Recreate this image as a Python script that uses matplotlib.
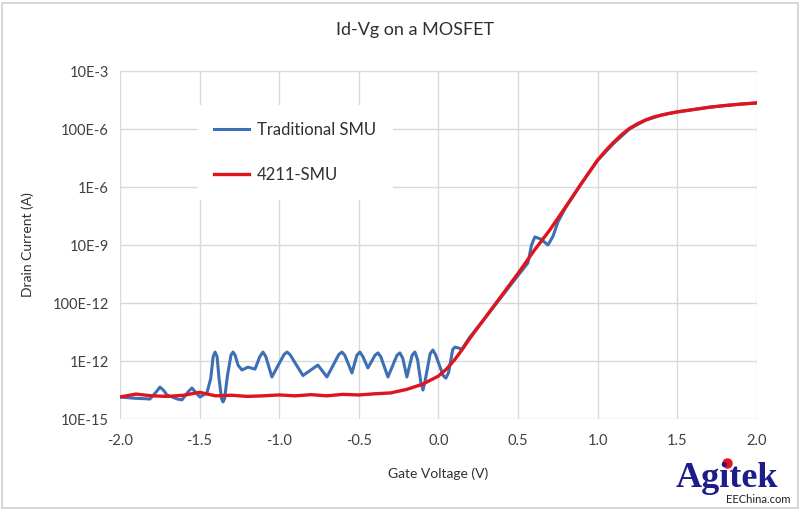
import matplotlib
matplotlib.use("Agg")
import matplotlib.pyplot as plt
import numpy as np
from matplotlib.patches import Rectangle

# gate voltage (V) and log10 of drain current (A)
v_trad = [-2.0, -1.918, -1.812, -1.770, -1.749, -1.728, -1.705, -1.640, -1.611,
          -1.570, -1.548, -1.525, -1.498, -1.454, -1.430, -1.415, -1.403, -1.390,
          -1.378, -1.362, -1.353, -1.343, -1.325, -1.303, -1.290, -1.277, -1.258,
          -1.234, -1.196, -1.152, -1.122, -1.102, -1.084, -1.046, -0.970, -0.951,
          -0.932, -0.851, -0.757, -0.700, -0.626, -0.606, -0.588, -0.543, -0.512,
          -0.493, -0.474, -0.443, -0.398, -0.380, -0.362, -0.317, -0.260, -0.242,
          -0.224, -0.198, -0.165, -0.148, -0.131, -0.110, -0.097, -0.084, -0.052,
          -0.035, -0.018, 0.030, 0.047, 0.064, 0.090, 0.104, 0.125, 0.148, 0.198,
          0.3, 0.4, 0.5, 0.562, 0.585, 0.606, 0.645, 0.688, 0.720, 0.750, 0.8,
          0.9, 1.0, 1.1, 1.2, 1.3, 1.4, 1.5, 1.6, 1.7, 1.8, 1.9, 2.0]
logi_trad = [-13.24, -13.28, -13.31, -13.05, -12.90, -13.00, -13.17, -13.31, -13.34,
             -13.05, -12.93, -13.08, -13.24, -13.10, -12.60, -11.85, -11.69, -11.85,
             -12.60, -13.30, -13.41, -13.30, -12.50, -11.80, -11.69, -11.80, -12.15,
             -12.31, -12.21, -12.28, -11.85, -11.69, -11.85, -12.55, -11.78, -11.69,
             -11.78, -12.50, -12.14, -12.55, -11.78, -11.69, -11.80, -12.41, -11.80,
             -11.69, -11.85, -12.24, -11.80, -11.72, -11.85, -12.55, -11.80, -11.72,
             -11.90, -12.55, -11.80, -11.69, -11.95, -12.75, -13.00, -12.70, -11.75,
             -11.62, -11.78, -12.50, -12.59, -12.40, -11.60, -11.52, -11.55, -11.59,
             -11.17, -10.47, -9.76, -9.05, -8.62, -8.00, -7.72, -7.80, -8.00, -7.70,
             -7.21, -6.70, -5.87, -5.08, -4.50, -4.00, -3.70, -3.52, -3.41, -3.33,
             -3.25, -3.19, -3.14, -3.10]

v_4211 = [-2.0, -1.9, -1.8, -1.7, -1.6, -1.5, -1.4, -1.3, -1.2, -1.1, -1.0, -0.9,
          -0.8, -0.7, -0.6, -0.5, -0.4, -0.3, -0.2, -0.1, 0.0, 0.05, 0.1, 0.15,
          0.2, 0.3, 0.4, 0.5, 0.6, 0.7, 0.8, 0.9, 1.0, 1.05, 1.1, 1.15, 1.2, 1.25,
          1.3, 1.35, 1.4, 1.45, 1.5, 1.6, 1.7, 1.8, 1.9, 2.0]
logi_4211 = [-13.24, -13.14, -13.20, -13.22, -13.18, -13.08, -13.20, -13.18, -13.22,
             -13.20, -13.17, -13.20, -13.16, -13.20, -13.15, -13.17, -13.13, -13.10,
             -12.98, -12.80, -12.52, -12.28, -11.97, -11.60, -11.20, -10.46, -9.72,
             -8.98, -8.20, -7.48, -6.68, -5.86, -5.07, -4.75, -4.46, -4.20, -3.98,
             -3.82, -3.69, -3.59, -3.52, -3.46, -3.41, -3.33, -3.25, -3.19, -3.14,
             -3.10]

x_ticks = [-2.0, -1.5, -1.0, -0.5, 0.0, 0.5, 1.0, 1.5, 2.0]
x_labels = ["-2.0", "-1.5", "-1.0", "-0.5", "0.0", "0.5", "1.0", "1.5", "2.0"]
y_ticks = [1e-14, 1e-12, 1e-10, 1e-8, 1e-6, 1e-4, 1e-2]
y_labels = ["10E-15", "1E-12", "100E-12", "10E-9", "1E-6", "100E-6", "10E-3"]

plt.rcParams['font.family'] = ['Lato', 'DejaVu Sans']

fig = plt.figure(figsize=(8, 5.11), dpi=100)
ax = fig.add_axes([0.15, 0.18, 0.796, 0.681])

ax.plot(v_trad, 10.0 ** np.array(logi_trad), color='#3d6fb5', lw=2.2,
        solid_joinstyle='round', label='Traditional SMU')
ax.plot(v_4211, 10.0 ** np.array(logi_4211), color='#e0141c', lw=2.4,
        solid_joinstyle='round', label='4211-SMU')

ax.set_yscale('log')
ax.set_xlim(-2.0, 2.0)
ax.set_ylim(1e-14, 1e-2)
ax.set_xticks(x_ticks, x_labels)
ax.set_yticks(y_ticks, y_labels)
ax.minorticks_off()
ax.grid(True, color='#d9d9d9', lw=1)
ax.set_axisbelow(True)
for s in ax.spines.values():
    s.set_visible(False)
ax.tick_params(length=0, labelsize=10.5, colors='#404040')
ax.tick_params(axis='x', pad=11)
ax.tick_params(axis='y', pad=8)

ax.set_xlabel('Gate Voltage (V)', fontsize=10, color='#303030', labelpad=14)
ax.set_ylabel('Drain Current (A)', fontsize=10, color='#303030', labelpad=13)
fig.text(0.519, 0.941, 'Id-Vg on a MOSFET', ha='center', va='center',
         fontsize=13, color='#303030')

leg = ax.legend(loc='upper left', bbox_to_anchor=(0.122, 0.902), frameon=True,
                fontsize=12, handlelength=2.1, labelspacing=1.75,
                borderpad=1.0, handletextpad=0.45, borderaxespad=0)
leg.get_frame().set_edgecolor('none')
leg.get_frame().set_facecolor('white')
leg.get_frame().set_alpha(1)
for t in leg.get_texts():
    t.set_color('#303030')

# watermark
fig.text(0.973, 0.047, 'Agitek', ha='right', va='baseline', fontsize=26,
         family='Liberation Serif', weight='bold', color='#1c1c8a')
fig.add_artist(plt.Line2D([727 / 800], [1 - 463 / 511], marker='o', markersize=6.5,
                          color='#e8101c', transform=fig.transFigure))
fig.text(0.988, 0.016, 'EEChina.com', ha='right', va='baseline', fontsize=8,
         color='#202020')
fig.patches.append(Rectangle((0.003, 0.005), 0.994, 0.99, transform=fig.transFigure,
                             fill=False, edgecolor='#d0d0d0', lw=1.2))

fig.savefig('out.png', dpi=100, facecolor='white')
